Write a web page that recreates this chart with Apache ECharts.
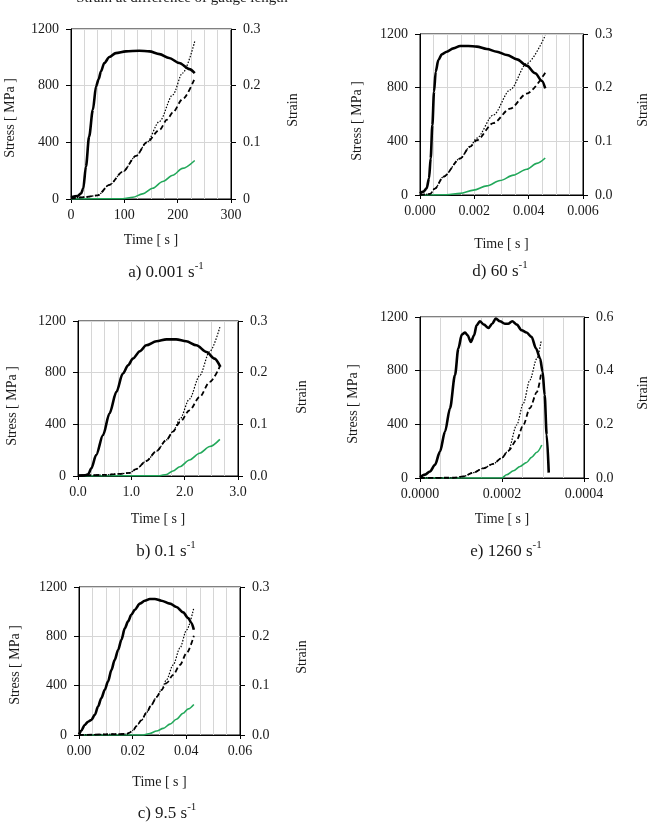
<!DOCTYPE html>
<html>
<head>
<meta charset="utf-8">
<script src="https://cdn.jsdelivr.net/npm/echarts@6/dist/echarts.min.js"></script>
<style>
html,body{margin:0;padding:0;background:#fff;}
#chart{width:657px;height:834px;}
</style>
</head>
<body>
<div id="chart"></div>
<script>
// ---------- data: [time (s), value] ----------
// a) 0.001 s-1
const aStress = [[0,12],[12.5,21],[19,40],[23,75],[28,229],[34,441],[41,630],[47,795],[52,847],[56,900],[62.5,960],[72,1002],[84,1030],[103,1042],[128,1047],[147,1042],[166,1023],[184,995],[203,960],[222,917],[232,889]];
const aStrainDot = [[0,0.001],[28,0.0035],[50,0.0065],[72,0.025],[97,0.048],[122,0.076],[142,0.1],[166,0.137],[191,0.184],[209,0.222],[232,0.278]];
const aStrainDash = [[0,0.001],[28,0.0035],[50,0.0065],[72,0.025],[97,0.048],[122,0.076],[142,0.1],[166,0.122],[180,0.14],[191,0.153],[209,0.176],[232,0.213]];
const aStrainGreen = [[0,0],[97,0.0005],[116,0.003],[134,0.009],[153,0.019],[172,0.031],[191,0.042],[209,0.054],[232,0.068]];

// d) 60 s-1
const dStress = [[0,12],[0.000123,25],[0.000246,50],[0.000332,124],[0.000393,273],[0.000455,522],[0.000516,770],[0.000578,919],[0.000676,1006],[0.0008,1048],[0.000984,1068],[0.00123,1093],[0.00148,1111],[0.00178,1111],[0.00209,1106],[0.00246,1088],[0.00283,1068],[0.0032,1043],[0.00357,1011],[0.00393,964],[0.00424,907],[0.00449,850],[0.00461,795]];
const dStrainDot = [[0,0],[0.00037,0.002],[0.00055,0.012],[0.00086,0.034],[0.00148,0.068],[0.00184,0.09],[0.00209,0.106],[0.0027,0.149],[0.00332,0.196],[0.00393,0.245],[0.00461,0.297]];
const dStrainDash = [[0,0],[0.00037,0.002],[0.00055,0.012],[0.00086,0.034],[0.00148,0.068],[0.00184,0.09],[0.00209,0.102],[0.0027,0.134],[0.00332,0.161],[0.00393,0.189],[0.00461,0.228]];
const dStrainGreen = [[0,0],[0.00098,0.0006],[0.00148,0.003],[0.00197,0.009],[0.00246,0.017],[0.00295,0.027],[0.00344,0.037],[0.00393,0.048],[0.0043,0.059],[0.00461,0.069]];

// b) 0.1 s-1
const bStress = [[0,3],[0.125,5],[0.19,13],[0.25,59],[0.34,162],[0.47,317],[0.59,484],[0.72,651],[0.84,793],[0.94,857],[1.03,909],[1.16,966],[1.28,1012],[1.47,1043],[1.66,1058],[1.84,1058],[2.03,1043],[2.22,1012],[2.41,960],[2.56,909],[2.67,845]];
const bStrainDot = [[0,0.0006],[0.47,0.002],[0.78,0.004],[0.97,0.006],[1.09,0.0135],[1.28,0.029],[1.47,0.048],[1.66,0.07],[1.78,0.086],[1.91,0.11],[2.09,0.149],[2.28,0.194],[2.47,0.241],[2.66,0.288]];
const bStrainDash = [[0,0.0006],[0.47,0.002],[0.78,0.004],[0.97,0.006],[1.09,0.0135],[1.28,0.029],[1.47,0.048],[1.66,0.07],[1.78,0.086],[1.91,0.104],[2.09,0.127],[2.28,0.153],[2.47,0.182],[2.66,0.212]];
const bStrainGreen = [[0,0],[1.53,0.0006],[1.66,0.003],[1.78,0.0097],[1.91,0.018],[2.09,0.031],[2.28,0.044],[2.47,0.057],[2.66,0.071]];

// e) 1260 s-1
const eStress = [[0,5],[0.0000122,25],[0.0000244,49],[0.0000366,99],[0.0000488,198],[0.000061,346],[0.0000732,520],[0.0000854,767],[0.0000935,965],[0.000102,1069],[0.00011,1084],[0.000116,1064],[0.000124,1014],[0.000132,1064],[0.000138,1138],[0.000146,1168],[0.000156,1143],[0.000167,1118],[0.000176,1150],[0.000185,1188],[0.000195,1168],[0.000207,1150],[0.000215,1150],[0.000225,1168],[0.000236,1143],[0.000248,1101],[0.00026,1084],[0.000272,1052],[0.000283,965],[0.000293,891],[0.000299,792],[0.000304,619],[0.000309,322],[0.000314,40]];
const eStrainDot = [[0,0],[0.0000813,0.001],[0.000106,0.006],[0.00013,0.02],[0.000154,0.036],[0.000179,0.053],[0.000199,0.074],[0.000215,0.101],[0.000236,0.198],[0.000252,0.278],[0.000268,0.365],[0.000285,0.445],[0.000296,0.515]];
const eStrainDash = [[0,0],[0.0000813,0.001],[0.000106,0.006],[0.00013,0.02],[0.000154,0.036],[0.000179,0.053],[0.000199,0.074],[0.000215,0.101],[0.000236,0.142],[0.000252,0.198],[0.000268,0.26],[0.000285,0.32],[0.000295,0.385]];
const eStrainGreen = [[0,0],[0.0002,0],[0.000211,0.012],[0.000228,0.027],[0.000244,0.043],[0.00026,0.058],[0.000272,0.077],[0.000285,0.096],[0.000297,0.123]];

// c) 9.5 s-1
const cStress = [[0,5],[0.00087,35],[0.0021,81],[0.0034,108],[0.0046,122],[0.0059,163],[0.0071,230],[0.0083,298],[0.0096,366],[0.0108,433],[0.0121,528],[0.0133,609],[0.0146,691],[0.0158,772],[0.0171,867],[0.0183,921],[0.0195,975],[0.0208,1016],[0.0227,1065],[0.0245,1089],[0.0264,1103],[0.0283,1103],[0.0307,1089],[0.0339,1065],[0.0363,1038],[0.0388,994],[0.0407,948],[0.0419,908],[0.0428,853]];
const cStrainDot = [[0,0],[0.0177,0.002],[0.0189,0.005],[0.0202,0.01],[0.0214,0.018],[0.0233,0.03],[0.0251,0.045],[0.027,0.061],[0.0289,0.077],[0.0307,0.091],[0.0326,0.112],[0.0351,0.142],[0.0376,0.176],[0.0401,0.213],[0.0428,0.258]];
const cStrainDash = [[0,0],[0.0177,0.002],[0.0189,0.005],[0.0202,0.01],[0.0214,0.018],[0.0233,0.03],[0.0251,0.045],[0.027,0.061],[0.0289,0.077],[0.0307,0.091],[0.0326,0.105],[0.0351,0.122],[0.0376,0.142],[0.0401,0.166],[0.0428,0.201]];
const cStrainGreen = [[0,0],[0.0239,0],[0.0264,0.003],[0.0289,0.008],[0.0314,0.0135],[0.0339,0.022],[0.0363,0.032],[0.0388,0.044],[0.0407,0.053],[0.0428,0.062]];

// tick-label texts / axis titles
const stressTitle = 'Stress [ MPa ]';
const strainTitle = 'Strain';
const timeTitle = 'Time [ s ]';
const topTitle = 'Strain at difference of gauge length';
const captionMain = ['a) 0.001 s', 'd) 60 s', 'b) 0.1 s', 'e) 1260 s', 'c) 9.5 s'];
const captionSup = '-1';

// ---------- layout ----------
const FONT = 'Liberation Serif';
const TXT = '#1a1a1a';
const GRIDC = '#d6d6d6';
const GREEN = '#22a85a';

const panels = [
  {grid:{left:71, top:29, width:160, height:170}, xMax:300, xInt:100, xDec:0, rMax:0.3, rInt:0.1, rZero:true,
   s:aStress, dot:aStrainDot, dash:aStrainDash, g:aStrainGreen, nameGap:34, sp:[10,118], tp:[293,110], cp:[166,271]},
  {grid:{left:420, top:34, width:163, height:161}, xMax:0.006, xInt:0.002, xDec:3, rMax:0.3, rInt:0.1,
   s:dStress, dot:dStrainDot, dash:dStrainDash, g:dStrainGreen, nameGap:42, sp:[357,121], tp:[643,110], cp:[500,270]},
  {grid:{left:78, top:321, width:160, height:155}, xMax:3, xInt:1, xDec:1, rMax:0.3, rInt:0.1,
   s:bStress, dot:bStrainDot, dash:bStrainDash, g:bStrainGreen, nameGap:36, sp:[12,406], tp:[302,397], cp:[166,550]},
  {grid:{left:420, top:317, width:164, height:161}, xMax:0.0004, xInt:0.0002, xDec:4, rMax:0.6, rInt:0.2, xMinorSplit:4,
   s:eStress, dot:eStrainDot, dash:eStrainDash, g:eStrainGreen, nameGap:34, sp:[353,404], tp:[643,393], cp:[506,550]},
  {grid:{left:79, top:587, width:161, height:148}, xMax:0.06, xInt:0.02, xDec:2, rMax:0.3, rInt:0.1,
   s:cStress, dot:cStrainDot, dash:cStrainDash, g:cStrainGreen, nameGap:40, sp:[15,665], tp:[302,657], cp:[167,812]}
];

const grid = [], xAxis = [], yAxis = [], series = [], graphic = [];
const labelStyle = {fontFamily:FONT, fontSize:14, color:TXT};

panels.forEach((p, i) => {
  grid.push(Object.assign({show:true, borderColor:'#000', borderWidth:1, backgroundColor:'transparent'}, p.grid));
  xAxis.push({
    type:'value', gridIndex:i, min:0, max:p.xMax, interval:p.xInt,
    name:timeTitle, nameLocation:'middle', nameGap:p.nameGap,
    nameTextStyle:{fontFamily:FONT, fontSize:14, color:TXT},
    axisLine:{show:true, lineStyle:{color:'#000', width:1}},
    axisTick:{show:true, inside:false, length:4, lineStyle:{color:'#000'}},
    axisLabel:Object.assign({margin:9, formatter:v => v.toFixed(p.xDec)}, labelStyle),
    splitLine:{show:true, lineStyle:{color:GRIDC, width:1}},
    minorTick:{show:false, splitNumber:p.xMinorSplit || 4},
    minorSplitLine:{show:true, lineStyle:{color:GRIDC, width:1}}
  });
  yAxis.push({
    type:'value', gridIndex:i, position:'left', min:0, max:1200, interval:400,
    axisLine:{show:true, lineStyle:{color:'#000', width:1}},
    axisTick:{show:true, length:5, lineStyle:{color:'#000'}},
    axisLabel:Object.assign({margin:12, formatter:v => String(Math.round(v))}, labelStyle),
    splitLine:{show:true, lineStyle:{color:GRIDC, width:1}}
  });
  yAxis.push({
    type:'value', gridIndex:i, position:'right', min:0, max:p.rMax, interval:p.rInt,
    axisLine:{show:true, lineStyle:{color:'#000', width:1}},
    axisTick:{show:true, length:5, lineStyle:{color:'#000'}},
    axisLabel:Object.assign({margin:12, formatter:v => (p.rZero && Math.abs(v) < 1e-9) ? '0' : v.toFixed(1)}, labelStyle),
    splitLine:{show:false}
  });
  const common = {type:'line', xAxisIndex:i, showSymbol:false, symbol:'none', smooth:0.3, smoothMonotone:'x', animation:false};
  series.push(Object.assign({}, common, {yAxisIndex:2*i+1, data:p.g, lineStyle:{color:GREEN, width:1.6}, z:2}));
  series.push(Object.assign({}, common, {yAxisIndex:2*i+1, data:p.dash, lineStyle:{color:'#000', width:1.8, type:[5,3]}, z:3}));
  series.push(Object.assign({}, common, {yAxisIndex:2*i+1, data:p.dot, lineStyle:{color:'#000', width:1.2, type:[1.5,1.5]}, z:4}));
  series.push(Object.assign({}, common, {yAxisIndex:2*i, data:p.s, lineStyle:{color:'#000', width:2.6}, z:5}));

  graphic.push({type:'text', x:p.sp[0], y:p.sp[1], rotation:Math.PI/2,
    style:{text:stressTitle, align:'center', verticalAlign:'middle', fontFamily:FONT, fontSize:14, fill:TXT}});
  graphic.push({type:'text', x:p.tp[0], y:p.tp[1], rotation:Math.PI/2,
    style:{text:strainTitle, align:'center', verticalAlign:'middle', fontFamily:FONT, fontSize:14, fill:TXT}});
  graphic.push({type:'text', x:p.cp[0], y:p.cp[1],
    style:{text:'{m|' + captionMain[i] + '}{s|' + captionSup + '}', align:'center', verticalAlign:'middle',
      rich:{m:{fontFamily:FONT, fontSize:17, fill:TXT, color:TXT, lineHeight:20, verticalAlign:'bottom'},
            s:{fontFamily:FONT, fontSize:11, fill:TXT, color:TXT, lineHeight:20, verticalAlign:'top', padding:[0,0,0,0]}}}});
});

graphic.push({type:'text', x:182, y:-1.5,
  style:{text:topTitle, align:'center', verticalAlign:'middle', fontFamily:FONT, fontSize:15, fill:TXT}});

const chart = echarts.init(document.getElementById('chart'), null, {renderer:'canvas'});
chart.setOption({
  animation:false,
  backgroundColor:'#fff',
  grid, xAxis, yAxis, series, graphic
});
</script>
</body>
</html>
